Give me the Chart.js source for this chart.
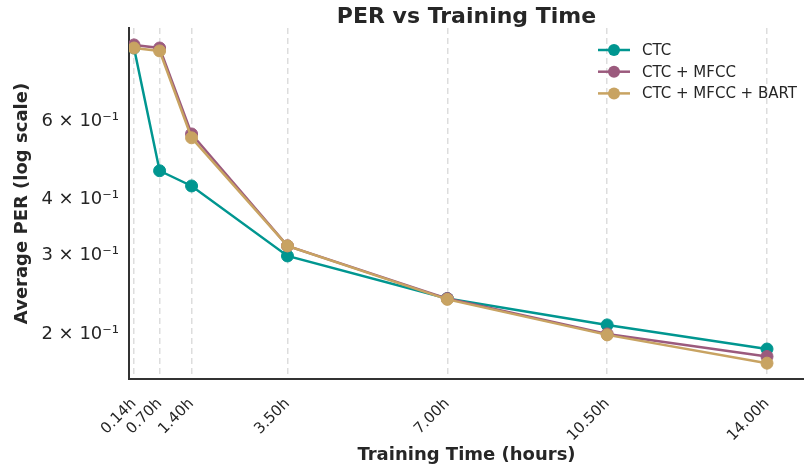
<!DOCTYPE html>
<html>
<head>
  <title>PER vs Training Time</title>
  <script src="https://cdn.jsdelivr.net/npm/chart.js"></script>
  <style>
    html, body { margin: 0; padding: 0; background: #fff; overflow: hidden; }
    canvas { display: block; }
  </style>
</head>
<body>
  <canvas id="perChart" width="804" height="469"></canvas>

  <script>
    // training time in hours
    const hours = [0.14, 0.70, 1.40, 3.50, 7.00, 10.50, 14.00];
    const yTicks = [0.2, 0.3, 0.4, 0.6];

    const seriesNames = ["CTC", "CTC + MFCC", "CTC + MFCC + BART"];
    const ctc      = [0.874, 0.464, 0.429, 0.299, 0.240, 0.2095, 0.185];
    const ctcMfcc  = [0.888, 0.874, 0.561, 0.315, 0.240, 0.200, 0.178];
    const ctcBart  = [0.874, 0.861, 0.550, 0.315, 0.239, 0.199, 0.172];
    const colors = ['#009690', '#9b5a7d', '#c8a362'];

    const FONT = "'DejaVu Sans', sans-serif";
    const TXT = '#262626';

    function toPoints(vals) {
      return hours.map((h, i) => ({ x: h, y: vals[i] }));
    }

    function makeSet(i, vals) {
      return {
        label: seriesNames[i],
        data: toPoints(vals),
        borderColor: colors[i],
        backgroundColor: colors[i],
        borderWidth: 2.5,
        pointRadius: 6,
        pointHoverRadius: 6,
        pointBorderWidth: 1,
        tension: 0,
        fill: false,
        order: 2 - i   // later series drawn on top
      };
    }

    // title centred over the plot area (like matplotlib)
    const titlePlugin = {
      id: 'axTitle',
      afterDraw(chart) {
        const { ctx, chartArea } = chart;
        ctx.save();
        ctx.font = "bold 22px " + FONT;
        ctx.fillStyle = TXT;
        ctx.textAlign = 'center';
        ctx.textBaseline = 'alphabetic';
        ctx.fillText("PER vs Training Time", (chartArea.left + chartArea.right) / 2, 23);
        ctx.restore();
      }
    };

    // legend inside the axes, upper right
    const legendPlugin = {
      id: 'innerLegend',
      afterDraw(chart) {
        const ctx = chart.ctx;
        ctx.save();
        ctx.font = "15px " + FONT;
        ctx.textBaseline = 'middle';
        chart.data.datasets.forEach((ds, i) => {
          const y = 50 + i * 21.7;
          ctx.strokeStyle = ds.borderColor;
          ctx.lineWidth = 2.5;
          ctx.beginPath();
          ctx.moveTo(598, y);
          ctx.lineTo(630, y);
          ctx.stroke();
          ctx.fillStyle = ds.backgroundColor;
          ctx.beginPath();
          ctx.arc(614, y, 6, 0, Math.PI * 2);
          ctx.fill();
          ctx.fillStyle = TXT;
          ctx.fillText(ds.label, 642, y + 1);
        });
        ctx.restore();
      }
    };

    new Chart(document.getElementById('perChart'), {
      type: 'line',
      data: {
        datasets: [makeSet(0, ctc), makeSet(1, ctcMfcc), makeSet(2, ctcBart)]
      },
      plugins: [titlePlugin, legendPlugin],
      options: {
        responsive: false,
        animation: false,
        layout: { autoPadding: false, padding: { top: 28, left: 0, right: 0, bottom: 0 } },
        plugins: {
          legend: { display: false },
          tooltip: { enabled: false }
        },
        scales: {
          x: {
            type: 'linear',
            min: 0.03,
            max: 14.81,
            afterBuildTicks: s => { s.ticks = hours.map(v => ({ value: v })); },
            afterFit: s => { s.height = 90; },
            ticks: {
              autoSkip: false,
              minRotation: 45,
              maxRotation: 45,
              padding: 16,
              color: TXT,
              font: { family: FONT, size: 15 },
              callback: v => Number(v).toFixed(2) + 'h'
            },
            grid: {
              display: true,
              drawTicks: false,
              color: '#dddddd',
              lineWidth: 1.5
            },
            border: { display: true, color: '#333333', width: 2, dash: [6, 4] },
            title: {
              display: true,
              text: 'Training Time (hours)',
              color: TXT,
              font: { family: FONT, size: 18, weight: 'bold' },
              padding: { top: 0, bottom: 3 }
            }
          },
          y: {
            type: 'logarithmic',
            min: 0.1585,
            max: 0.969,
            afterBuildTicks: s => { s.ticks = yTicks.map(v => ({ value: v })); },
            afterFit: s => { s.width = 129; },
            ticks: {
              padding: 10,
              color: TXT,
              font: { family: FONT, size: 18 },
              callback: v => Math.round(v * 10) + ' \u00d7 10\u207b\u00b9'
            },
            grid: { display: false, drawTicks: false },
            border: { display: true, color: '#333333', width: 2 },
            title: {
              display: true,
              text: 'Average PER (log scale)',
              color: TXT,
              font: { family: FONT, size: 18, weight: 'bold' },
              padding: { top: 12, bottom: 0 }
            }
          }
        }
      }
    });
  </script>
</body>
</html>
